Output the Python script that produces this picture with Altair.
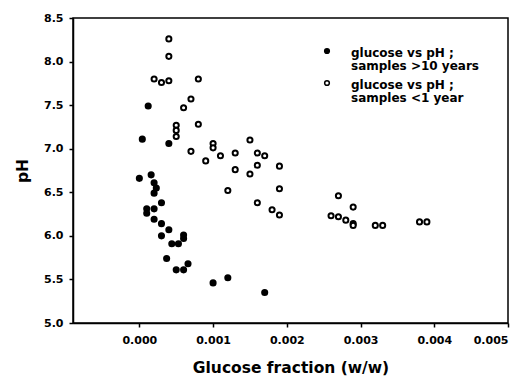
import altair as alt
import pandas as pd

old_x = [0.00012, 0.00004, 0.0004, 0.0000, 0.00016, 0.0002, 0.00023, 0.0002, 0.0003,
         0.0001, 0.0002, 0.0001, 0.0002, 0.0003, 0.0004, 0.0003, 0.0006, 0.0006,
         0.00044, 0.00053, 0.00037, 0.0005, 0.0006, 0.00066, 0.0010, 0.0012, 0.0017]
old_y = [7.49, 7.11, 7.06, 6.66, 6.70, 6.61, 6.55, 6.49, 6.38,
         6.31, 6.31, 6.26, 6.19, 6.14, 6.07, 6.00, 6.01, 5.97,
         5.91, 5.91, 5.74, 5.61, 5.61, 5.68, 5.46, 5.52, 5.35]

new_x = [0.0004, 0.0004, 0.0002, 0.0003, 0.0004, 0.0008, 0.0007, 0.0006, 0.0005,
         0.0005, 0.0005, 0.0008, 0.0007, 0.0009, 0.0010, 0.0010, 0.0011, 0.0013,
         0.0013, 0.0015, 0.0016, 0.0017, 0.0016, 0.0019, 0.0015, 0.0012, 0.0019,
         0.0016, 0.0018, 0.0019, 0.0027, 0.0029, 0.0026, 0.0027, 0.0028, 0.0029,
         0.0029, 0.0032, 0.0033, 0.0038, 0.0039]
new_y = [8.26, 8.06, 7.80, 7.76, 7.78, 7.80, 7.57, 7.47, 7.27,
         7.21, 7.14, 7.28, 6.97, 6.86, 7.06, 7.01, 6.92, 6.95,
         6.76, 7.10, 6.95, 6.92, 6.81, 6.80, 6.71, 6.52, 6.54,
         6.38, 6.30, 6.24, 6.46, 6.33, 6.23, 6.22, 6.18, 6.14,
         6.12, 6.12, 6.12, 6.16, 6.16]

series_names = ["glucose vs pH ;|samples >10 years", "glucose vs pH ;|samples <1 year"]
series_fill = ["black", "white"]
x_ticks = [0.000, 0.001, 0.002, 0.003, 0.004, 0.005]
y_ticks = [5.0, 5.5, 6.0, 6.5, 7.0, 7.5, 8.0, 8.5]

df = pd.concat([
    pd.DataFrame({"g": old_x, "ph": old_y, "s": series_names[0]}),
    pd.DataFrame({"g": new_x, "ph": new_y, "s": series_names[1]}),
])

FONT = "DejaVu Sans"

chart = alt.Chart(df).mark_point(
    filled=True, shape="circle", size=26, stroke="black", strokeWidth=2, opacity=1
).encode(
    x=alt.X("g:Q", title="Glucose fraction (w/w)",
            scale=alt.Scale(domain=[-0.0009, 0.005], nice=False, zero=False),
            axis=alt.Axis(values=x_ticks, format=".3f", labelPadding=10, titlePadding=15)),
    y=alt.Y("ph:Q", title="pH",
            scale=alt.Scale(domain=[5.0, 8.5], nice=False, zero=False),
            axis=alt.Axis(values=y_ticks, format=".1f", labelPadding=6, labelOffset=3,
                          titlePadding=13)),
    fill=alt.Fill("s:N", title=None,
                  scale=alt.Scale(domain=series_names, range=series_fill),
                  legend=alt.Legend(orient="none", legendX=248, legendY=27,
                                    labelExpr="split(datum.label, '|')",
                                    symbolType="circle", symbolSize=22,
                                    symbolStrokeColor="black", symbolStrokeWidth=1.5,
                                    labelOffset=18, labelBaseline="top",
                                    rowPadding=5, padding=0,
                                    labelFont=FONT, labelFontWeight="bold",
                                    labelFontSize=12, labelColor="black", labelLimit=300)),
).properties(
    width=435, height=305,
    autosize=alt.AutoSizeParams(type="none"),
    padding={"left": 65, "top": 10, "right": 10, "bottom": 60},
).configure(
    style={"guide-label": {"lineHeight": 12.5, "dy": -3}}
).configure_view(
    stroke="black", strokeWidth=1.5
).configure_axis(
    grid=False, domainColor="black", domainWidth=1.5, tickColor="black", tickWidth=1.5,
    tickSize=4, labelFont=FONT, labelFontWeight="bold", labelFontSize=11, labelColor="black",
    titleFont=FONT, titleFontWeight="bold", titleFontSize=15.5, titleColor="black"
)

chart.save("out.html", embed_options={"renderer": "svg", "actions": False})
